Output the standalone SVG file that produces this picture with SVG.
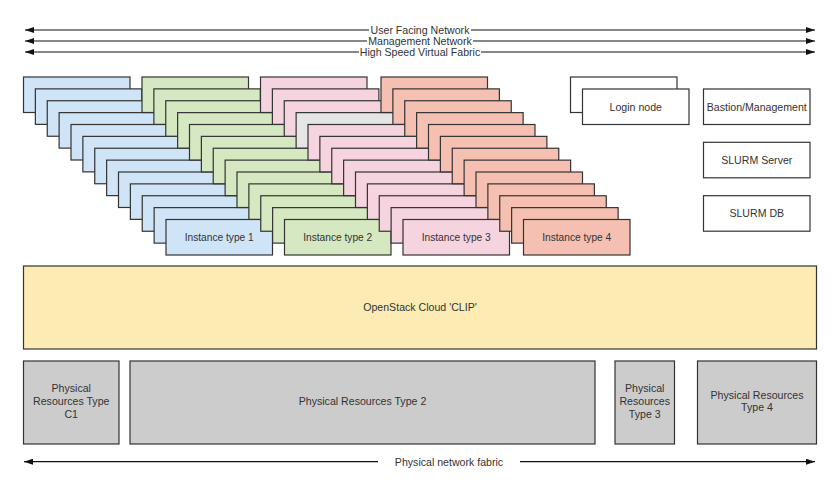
<svg xmlns="http://www.w3.org/2000/svg" width="840" height="503" viewBox="0 0 840 503">
<style>
  text{font-family:"Liberation Sans",Arial,sans-serif;font-size:10.6px;fill:#333;text-anchor:middle;dominant-baseline:central}
  .box{stroke:#333;stroke-width:1.2}
  .b{fill:#cfe4f6}
  .g{fill:#d5e8c1}
  .p{fill:#f5d4e0}
  .r{fill:#f5c0b2}
  .lg{fill:#e5e5e5}
  .w{fill:#fff}
  .y{fill:#fcecb3}
  .ph{fill:#cccccc}
  .it{font-size:10.2px}
  .ln{stroke:#111;stroke-width:1.2;fill:none}
</style>
<defs>
  <marker id="ah" viewBox="0 0 9 6" refX="9" refY="3" markerWidth="9" markerHeight="6" markerUnits="userSpaceOnUse" orient="auto-start-reverse">
    <path d="M0,0 L9,3 L0,6 z" fill="#111"/>
  </marker>
</defs>
<rect width="840" height="503" fill="#fff"/>

<g id="connectors">
  <line class="ln" x1="25" y1="30" x2="815" y2="30" marker-start="url(#ah)" marker-end="url(#ah)"/>
  <line class="ln" x1="25" y1="41" x2="815" y2="41" marker-start="url(#ah)" marker-end="url(#ah)"/>
  <line class="ln" x1="25" y1="52" x2="815" y2="52" marker-start="url(#ah)" marker-end="url(#ah)"/>
  <rect x="369" y="25" width="102" height="10" fill="#fff"/>
  <text x="420" y="30">User Facing Network</text>
  <rect x="367" y="36" width="106" height="10" fill="#fff"/>
  <text x="420" y="41">Management Network</text>
  <rect x="359" y="47" width="122" height="10" fill="#fff"/>
  <text x="420" y="52">High Speed Virtual Fabric</text>
  <line class="ln" x1="378" y1="461.7" x2="24" y2="461.7" marker-end="url(#ah)"/>
  <line class="ln" x1="520" y1="461.7" x2="815" y2="461.7" marker-end="url(#ah)"/>
  <text x="449" y="461.7">Physical network fabric</text>
</g>

<g id="instance-type-1">
  <rect class="box b" x="23.5" y="77" width="106.5" height="35.5"/>
  <rect class="box b" x="35.375" y="88.875" width="106.5" height="35.5"/>
  <rect class="box b" x="47.25" y="100.75" width="106.5" height="35.5"/>
  <rect class="box b" x="59.125" y="112.625" width="106.5" height="35.5"/>
  <rect class="box b" x="71" y="124.5" width="106.5" height="35.5"/>
  <rect class="box b" x="82.875" y="136.375" width="106.5" height="35.5"/>
  <rect class="box b" x="94.75" y="148.25" width="106.5" height="35.5"/>
  <rect class="box b" x="106.625" y="160.125" width="106.5" height="35.5"/>
  <rect class="box b" x="118.5" y="172" width="106.5" height="35.5"/>
  <rect class="box b" x="130.375" y="183.875" width="106.5" height="35.5"/>
  <rect class="box b" x="142.25" y="195.75" width="106.5" height="35.5"/>
  <rect class="box b" x="154.125" y="207.625" width="106.5" height="35.5"/>
  <rect class="box b" x="166" y="219.5" width="106.5" height="35.5"/>
  <text class="it" x="219.25" y="237">Instance type 1</text>
</g>

<g id="instance-type-2">
  <rect class="box g" x="142" y="77" width="106.5" height="35.5"/>
  <rect class="box g" x="153.875" y="88.875" width="106.5" height="35.5"/>
  <rect class="box g" x="165.75" y="100.75" width="106.5" height="35.5"/>
  <rect class="box g" x="177.625" y="112.625" width="106.5" height="35.5"/>
  <rect class="box g" x="189.5" y="124.5" width="106.5" height="35.5"/>
  <rect class="box g" x="201.375" y="136.375" width="106.5" height="35.5"/>
  <rect class="box g" x="213.25" y="148.25" width="106.5" height="35.5"/>
  <rect class="box g" x="225.125" y="160.125" width="106.5" height="35.5"/>
  <rect class="box g" x="237" y="172" width="106.5" height="35.5"/>
  <rect class="box g" x="248.875" y="183.875" width="106.5" height="35.5"/>
  <rect class="box g" x="260.75" y="195.75" width="106.5" height="35.5"/>
  <rect class="box g" x="272.625" y="207.625" width="106.5" height="35.5"/>
  <rect class="box g" x="284.5" y="219.5" width="106.5" height="35.5"/>
  <text class="it" x="337.75" y="237">Instance type 2</text>
</g>

<g id="instance-type-3">
  <rect class="box p" x="260.5" y="77" width="106.5" height="35.5"/>
  <rect class="box p" x="272.375" y="88.875" width="106.5" height="35.5"/>
  <rect class="box p" x="284.25" y="100.75" width="106.5" height="35.5"/>
  <rect class="box lg" x="296.125" y="112.625" width="106.5" height="35.5"/>
  <rect class="box p" x="308" y="124.5" width="106.5" height="35.5"/>
  <rect class="box p" x="319.875" y="136.375" width="106.5" height="35.5"/>
  <rect class="box p" x="331.75" y="148.25" width="106.5" height="35.5"/>
  <rect class="box p" x="343.625" y="160.125" width="106.5" height="35.5"/>
  <rect class="box p" x="355.5" y="172" width="106.5" height="35.5"/>
  <rect class="box p" x="367.375" y="183.875" width="106.5" height="35.5"/>
  <rect class="box p" x="379.25" y="195.75" width="106.5" height="35.5"/>
  <rect class="box p" x="391.125" y="207.625" width="106.5" height="35.5"/>
  <rect class="box p" x="403" y="219.5" width="106.5" height="35.5"/>
  <text class="it" x="456.25" y="237">Instance type 3</text>
</g>

<g id="instance-type-4">
  <rect class="box r" x="381" y="77" width="106.5" height="35.5"/>
  <rect class="box r" x="392.875" y="88.875" width="106.5" height="35.5"/>
  <rect class="box r" x="404.75" y="100.75" width="106.5" height="35.5"/>
  <rect class="box r" x="416.625" y="112.625" width="106.5" height="35.5"/>
  <rect class="box r" x="428.5" y="124.5" width="106.5" height="35.5"/>
  <rect class="box r" x="440.375" y="136.375" width="106.5" height="35.5"/>
  <rect class="box r" x="452.25" y="148.25" width="106.5" height="35.5"/>
  <rect class="box r" x="464.125" y="160.125" width="106.5" height="35.5"/>
  <rect class="box r" x="476" y="172" width="106.5" height="35.5"/>
  <rect class="box r" x="487.875" y="183.875" width="106.5" height="35.5"/>
  <rect class="box r" x="499.75" y="195.75" width="106.5" height="35.5"/>
  <rect class="box r" x="511.625" y="207.625" width="106.5" height="35.5"/>
  <rect class="box r" x="523.5" y="219.5" width="106.5" height="35.5"/>
  <text class="it" x="576.75" y="237">Instance type 4</text>
</g>

<g id="login-node">
  <rect class="box w" x="570.5" y="77" width="106.5" height="35.5"/>
  <rect class="box w" x="582.5" y="89" width="106.5" height="35.5"/>
  <text x="635.75" y="106.75">Login node</text>
</g>

<g id="bastion">
  <rect class="box w" x="703.5" y="89" width="106.5" height="35.5"/>
  <text x="756.75" y="106.75">Bastion/Management</text>
</g>

<g id="slurm-server">
  <rect class="box w" x="703.5" y="142.3" width="106.5" height="35.5"/>
  <text x="756.75" y="160">SLURM Server</text>
</g>

<g id="slurm-db">
  <rect class="box w" x="703.5" y="195.7" width="106.5" height="35.5"/>
  <text x="756.75" y="213.4">SLURM DB</text>
</g>

<g id="openstack">
  <rect class="box y" x="23.5" y="266" width="793" height="83"/>
  <text x="420" y="306.5">OpenStack Cloud 'CLIP'</text>
</g>

<g id="phys-c1">
  <rect class="box ph" x="23.5" y="361" width="95.5" height="83"/>
  <text x="71.25" y="388.3">Physical</text>
  <text x="71.25" y="401.1">Resources Type</text>
  <text x="71.25" y="413.9">C1</text>
</g>

<g id="phys-2">
  <rect class="box ph" x="130" y="361" width="465" height="83"/>
  <text x="362.5" y="401.1">Physical Resources Type 2</text>
</g>

<g id="phys-3">
  <rect class="box ph" x="615" y="361" width="59.5" height="83"/>
  <text x="644.75" y="388.3">Physical</text>
  <text x="644.75" y="401.1">Resources</text>
  <text x="644.75" y="413.9">Type 3</text>
</g>

<g id="phys-4">
  <rect class="box ph" x="697.5" y="361" width="119" height="83"/>
  <text x="757" y="394.5">Physical Resources</text>
  <text x="757" y="407.3">Type 4</text>
</g>
</svg>
